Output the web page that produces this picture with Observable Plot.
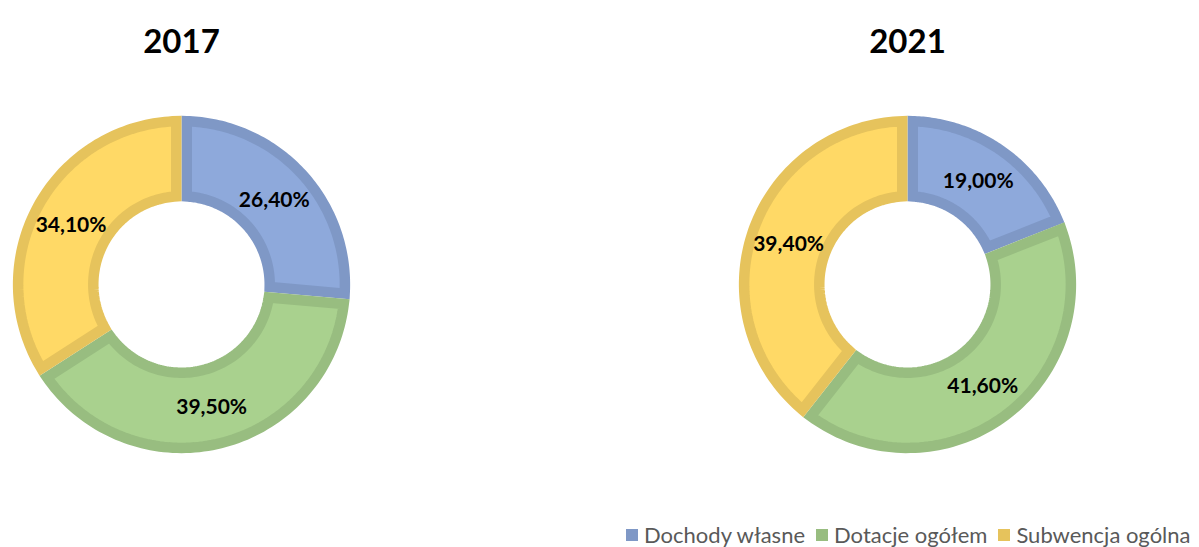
<!DOCTYPE html>
<html><head><meta charset="utf-8">
<script src="https://cdn.jsdelivr.net/npm/d3@7"></script>
<script src="https://cdn.jsdelivr.net/npm/@observablehq/plot@0.6"></script>
<style>
body{margin:0;background:#fff;font-family:Lato,sans-serif;}
#chart{position:relative;width:1199px;height:547px;overflow:hidden;background:#fff}
#legend{position:absolute;left:626px;top:524px;display:flex;align-items:center;font-size:22px;color:#595959;white-space:nowrap;line-height:22px;height:22px}
.item{display:flex;align-items:center;margin-right:11px}
.sw{width:12px;height:12px;margin-right:6px}
</style></head>
<body><div id="chart"></div>
<script>
const years = ["2017", "2021"];
const categories = ["Dochody własne", "Dotacje ogółem", "Subwencja ogólna"];
const values2017 = [26.4, 39.5, 34.1];
const values2021 = [19.0, 41.6, 39.4];
const fillColors = ["#8EA9DB", "#A9D18E", "#FFD966"];
const strokeColors = ["#7F98C6", "#98BD80", "#E6C35C"];

const fmt = v => v.toFixed(2).replace(".", ",") + "%";
const PX = 170;                 // pixels per unit (facet is 340px wide for [-1,1])
const BORDER = 10.5 / PX;       // border drawn inside each slice
const D = BORDER / 2;
const R_OUT = 0.992, R_IN = 0.488, R_LABEL = 0.74;
const pie = d3.pie().sort(null).value(d => d.value);
const rows = [], labelRows = [];
years.forEach((year, yi) => {
  const vals = yi === 0 ? values2017 : values2021;
  const arcs = pie(categories.map((cat, i) => ({cat, i, value: vals[i]})));
  arcs.forEach(a => {
    const ro = R_OUT - D, ri = R_IN + D, n = 90;
    const i = a.data.i;
    const base = {year, cat: a.data.cat, fill: fillColors[i], stroke: strokeColors[i]};
    const o0 = a.startAngle + Math.asin(D / ro), o1 = a.endAngle - Math.asin(D / ro);
    const i0 = a.startAngle + Math.asin(D / ri), i1 = a.endAngle - Math.asin(D / ri);
    for (let k = 0; k <= n; k++) {
      const t = o0 + (o1 - o0) * k / n;
      rows.push({...base, x: ro * Math.sin(t), y: ro * Math.cos(t)});
    }
    for (let k = n; k >= 0; k--) {
      const t = i0 + (i1 - i0) * k / n;
      rows.push({...base, x: ri * Math.sin(t), y: ri * Math.cos(t)});
    }
    const m = (a.startAngle + a.endAngle) / 2;
    labelRows.push({year, x: R_LABEL * Math.sin(m), y: R_LABEL * Math.cos(m), text: fmt(a.data.value)});
  });
});

const plot = Plot.plot({
  width: 1199, height: 500,
  marginTop: 114, marginBottom: 46, marginLeft: 11, marginRight: 122,
  fx: {domain: years, paddingInner: 1 - 340 / 726, paddingOuter: 0, round: false, label: null, axis: null},
  x: {domain: [-1, 1], axis: null},
  y: {domain: [-1, 1], axis: null},
  color: {type: "identity"},
  style: {fontFamily: "Lato, sans-serif", color: "#000", background: "transparent"},
  marks: [
    Plot.line(rows, {fx: "year", x: "x", y: "y", z: "cat", curve: "linear-closed",
      fill: "fill", stroke: "stroke", strokeWidth: BORDER * PX, strokeLinejoin: "miter", strokeMiterlimit: 10, strokeLinecap: "butt"}),
    Plot.text(labelRows, {fx: "year", x: "x", y: "y", dy: 1, text: "text", fontSize: 21, fontWeight: "bold", fill: "#000"}),
    Plot.axisFx({anchor: "top", tickSize: 0, tickPadding: 62, fontSize: 33, fontWeight: "bold", label: null, fill: "#000"})
  ]
});
const chart = document.getElementById("chart");
chart.appendChild(plot);
const legend = document.createElement("div");
legend.id = "legend";
categories.forEach((c, i) => {
  const it = document.createElement("div"); it.className = "item";
  const sw = document.createElement("div"); sw.className = "sw"; sw.style.background = strokeColors[i];
  const tx = document.createElement("span"); tx.textContent = c;
  it.appendChild(sw); it.appendChild(tx); legend.appendChild(it);
});
chart.appendChild(legend);
</script>
</body></html>
